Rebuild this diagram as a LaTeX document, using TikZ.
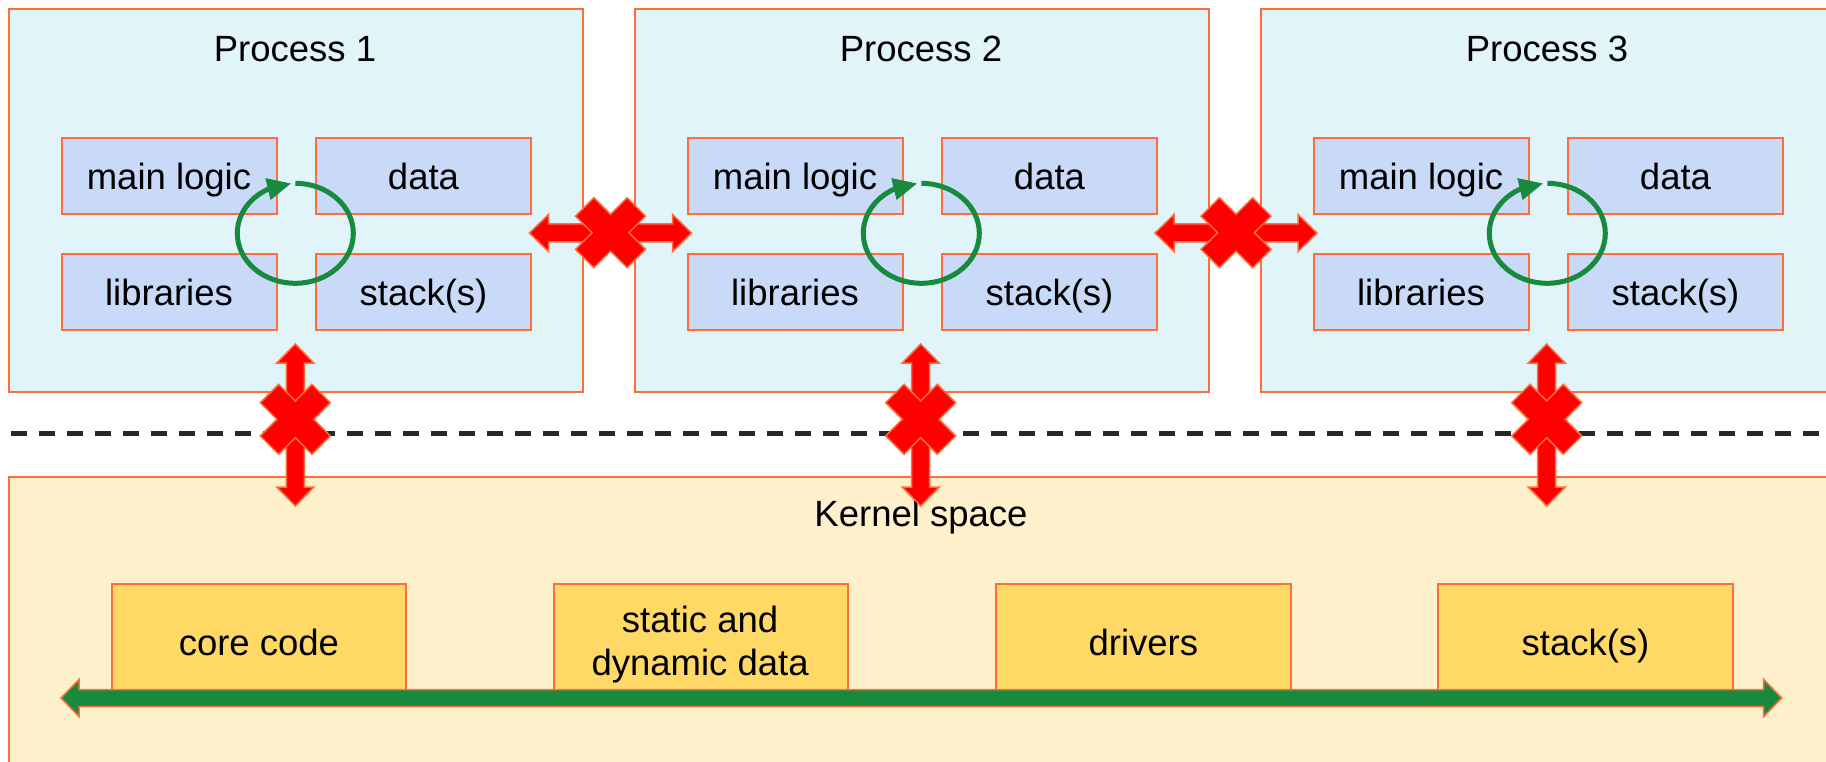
\documentclass[tikz,border=0pt]{standalone}
\usepackage{fontspec}
\setmainfont{Liberation Sans}
\usetikzlibrary{arrows.meta,bending}
\definecolor{edgeorange}{RGB}{255,109,58}
\definecolor{procfill}{RGB}{224,244,250}
\definecolor{innerfill}{RGB}{201,218,248}
\definecolor{kernfill}{RGB}{255,240,204}
\definecolor{kboxfill}{RGB}{255,217,102}
\definecolor{loopgreen}{RGB}{24,138,62}
\definecolor{xred}{RGB}{255,0,0}
\definecolor{dashgray}{RGB}{40,40,40}
\newcommand\lblfont{\fontsize{36.5}{42.3}\selectfont}
\tikzset{
  procbox/.style={draw=edgeorange, fill=procfill, line width=2pt, anchor=north west, inner sep=0pt, minimum width=573.3pt, minimum height=382.4pt},
  innerbox/.style={draw=edgeorange, fill=innerfill, line width=2pt, anchor=north west, inner sep=0pt, minimum width=215pt, minimum height=75.4pt, font=\lblfont, text height=26.6pt, text depth=0pt},
  titlelbl/.style={font=\lblfont, anchor=base, inner sep=0pt},
  kernbox/.style={draw=edgeorange, fill=kernfill, line width=2pt, anchor=north west, inner sep=0pt},
  kbox/.style={draw=edgeorange, fill=kboxfill, line width=2pt, anchor=north west, inner sep=0pt, minimum width=294.4pt, minimum height=106.6pt, font=\lblfont, text height=36.6pt, text depth=0pt},
  loopline/.style={draw=loopgreen, line width=5pt, -{Triangle[length=24pt,width=21pt]}},
  redshape/.style={fill=xred, draw=edgeorange, line width=1.5pt, line join=miter},
  greenshape/.style={fill=loopgreen, draw=edgeorange, line width=1.5pt, line join=miter},
  sepline/.style={draw=dashgray, line width=4.5pt, dash pattern=on 15.7pt off 12.3pt},
  pics/dblarrow/.style={code={
    \path[redshape] (-81,0) -- (-62,-18.5) -- (-62,-9) -- (62,-9) -- (62,-18.5) -- (81,0)
      -- (62,18.5) -- (62,9) -- (-62,9) -- (-62,18.5) -- cycle;}},
  pics/xmark/.style={code={
    \path[redshape, rotate=45] (36.5,13) -- (13,13) -- (13,36.5) -- (-13,36.5) -- (-13,13) -- (-36.5,13)
      -- (-36.5,-13) -- (-13,-13) -- (-13,-36.5) -- (13,-36.5) -- (13,-13) -- (36.5,-13) -- cycle;}},
}
\begin{document}
\begin{tikzpicture}[x=1pt,y=-1pt]
\useasboundingbox (0,0) rectangle (1826,762);
\fill[white] (0,0) rectangle (1826,762);
\begin{scope}
\clip (0,0) rectangle (1826,762);
% processes
\foreach \i/\dx in {1/0,2/626,3/1252}{
  \begin{scope}[xshift=\dx pt]
    \node[procbox] (p\i) at (8.4,8.3) {};
    \node[titlelbl] (t\i) at (295,61.7) {Process \i};
    \node[innerbox] (ml\i) at (60.5,137.3) {main logic};
    \node[innerbox] (da\i) at (315,137.3) {data};
    \node[innerbox] (li\i) at (60.5,253.3) {libraries};
    \node[innerbox] (st\i) at (315,253.3) {stack(s)};
    \coordinate (c\i) at (295.3,183.3);
    \draw[loopline] (c\i) arc[start angle=90, end angle=-266, x radius=58pt, y radius=50pt];
  \end{scope}
}
% kernel
\node[kernbox, minimum width=1840pt, minimum height=320pt] (kernel) at (8.3,475.7) {};
\node[titlelbl] (klbl) at (921,526) {Kernel space};
\node[kbox] (core) at (110.7,582.7) {core code};
\node[kbox] (sd) at (552.9,582.7) {};
\node[font=\lblfont, align=center, anchor=north, inner sep=0pt] (sdlbl) at (700.1,606.1) {static and\\dynamic data};
\node[kbox] (drv) at (995.1,582.7) {drivers};
\node[kbox] (kst) at (1437.3,582.7) {stack(s)};
% green bus arrow
\coordinate (gl) at (61,698);
\coordinate (gr) at (1781.7,698);
\path[greenshape] (61,698) -- (79,679.5) -- (79,689.5) -- (1763.7,689.5) -- (1763.7,679.5) -- (1781.7,698)
  -- (1763.7,716.5) -- (1763.7,706.5) -- (79,706.5) -- (79,716.5) -- cycle;
% separator
\coordinate (sl) at (11,433.3);
\coordinate (sr) at (1830,433.3);
\draw[sepline] (sl) -- (sr);
% blocked arrows
\pic at (610.5,233) {dblarrow};
\pic at (610.5,232.7) {xmark};
\pic at (1236,233) {dblarrow};
\pic at (1236,232.7) {xmark};
\foreach \x in {295.3,920.7,1546.7}{
  \pic[rotate=90] at (\x,425) {dblarrow};
  \pic at (\x,419.3) {xmark};
}
\end{scope}
\end{tikzpicture}
\end{document}
